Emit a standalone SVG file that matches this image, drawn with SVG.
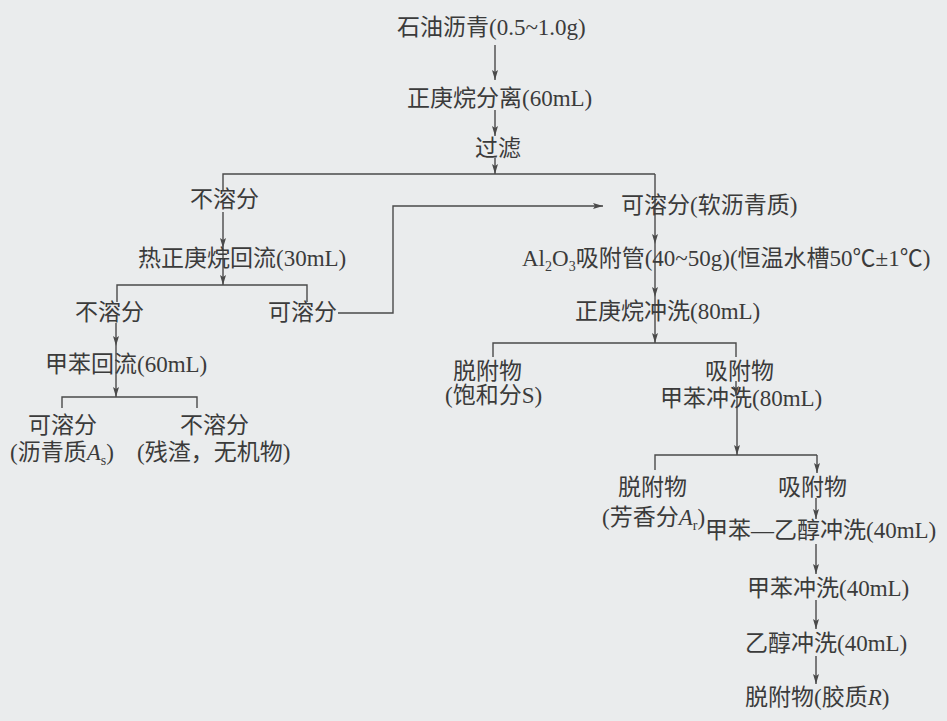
<svg xmlns="http://www.w3.org/2000/svg" width="947" height="721" viewBox="0 0 947 721">
<defs>
<style>
text{font-family:"Liberation Serif","Noto Sans CJK SC",serif;font-size:23px;fill:#3b3b3b}
.sub{font-size:14px}
.it{font-style:italic}
.ln{fill:none;stroke:#4a4a4a;stroke-width:1.4}
</style>
<marker id="ah" viewBox="0 0 10 10" refX="10" refY="5" markerWidth="10" markerHeight="10" markerUnits="userSpaceOnUse" orient="auto">
<path d="M0,2 L10,5 L0,8 L2,5 Z" fill="#4a4a4a"/>
</marker>
</defs>
<rect width="947" height="721" fill="#eaeced"/>
<g id="connectors">
<line class="ln" x1="495" y1="45" x2="495" y2="80" marker-end="url(#ah)"/>
<line class="ln" x1="495" y1="110" x2="495" y2="136" marker-end="url(#ah)"/>
<line class="ln" x1="495" y1="158" x2="495" y2="174" marker-end="url(#ah)"/>
<polyline class="ln" points="223,190 223,174 655,174"/>
<line class="ln" x1="655" y1="174" x2="655" y2="244" marker-end="url(#ah)"/>
<line class="ln" x1="655" y1="244" x2="655" y2="297" marker-end="url(#ah)"/>
<line class="ln" x1="655" y1="297" x2="655" y2="343" marker-end="url(#ah)"/>
<line class="ln" x1="223" y1="212" x2="223" y2="248" marker-end="url(#ah)"/>
<line class="ln" x1="223" y1="248" x2="223" y2="285" marker-end="url(#ah)"/>
<polyline class="ln" points="117,302 117,285 307,285 307,302"/>
<polyline class="ln" points="338,313 393,313 393,206 603,206" marker-end="url(#ah)"/>
<line class="ln" x1="116" y1="323" x2="116" y2="346" marker-end="url(#ah)"/>
<line class="ln" x1="116" y1="346" x2="116" y2="397" marker-end="url(#ah)"/>
<polyline class="ln" points="62,408 62,397 197,397 197,408"/>
<polyline class="ln" points="493,357 493,343 736,343 736,357"/>
<line class="ln" x1="736" y1="381" x2="736" y2="396" marker-end="url(#ah)"/>
<line class="ln" x1="737" y1="396" x2="737" y2="455" marker-end="url(#ah)"/>
<polyline class="ln" points="655,470 655,455 817,455"/>
<line class="ln" x1="817" y1="455" x2="817" y2="473" marker-end="url(#ah)"/>
<line class="ln" x1="816" y1="498" x2="816" y2="519" marker-end="url(#ah)"/>
<line class="ln" x1="816" y1="544" x2="816" y2="574" marker-end="url(#ah)"/>
<line class="ln" x1="816" y1="600" x2="816" y2="629" marker-end="url(#ah)"/>
<line class="ln" x1="816" y1="656" x2="816" y2="684" marker-end="url(#ah)"/>
</g>
<g id="n1"><text x="397" y="35">石油沥青(0.5~1.0g)</text></g>
<g id="n2"><text x="407" y="106">正庚烷分离(60mL)</text></g>
<g id="n3"><text x="475" y="156">过滤</text></g>
<g id="n4"><text x="190" y="207">不溶分</text></g>
<g id="n5"><text x="621" y="213">可溶分(软沥青质)</text></g>
<g id="n6"><text x="138" y="266">热正庚烷回流(30mL)</text></g>
<g id="n7"><text x="522" y="266">Al<tspan class="sub" dy="5">2</tspan><tspan dy="-5">O</tspan><tspan class="sub" dy="5">3</tspan><tspan dy="-5">吸附管(40~50g)(恒温水槽50℃±1℃)</tspan></text></g>
<g id="n8"><text x="75" y="320">不溶分</text></g>
<g id="n9"><text x="268" y="320">可溶分</text></g>
<g id="n10"><text x="575" y="319">正庚烷冲洗(80mL)</text></g>
<g id="n11"><text x="45" y="372">甲苯回流(60mL)</text></g>
<g id="n12"><text x="453" y="379">脱附物</text><text x="445" y="403">(饱和分S)</text></g>
<g id="n13"><text x="705" y="379">吸附物</text></g>
<g id="n14"><text x="660" y="406">甲苯冲洗(80mL)</text></g>
<g id="n15"><text x="28" y="433">可溶分</text><text x="10" y="460">(沥青质<tspan class="it">A</tspan><tspan class="sub" dy="5">s</tspan><tspan dy="-5">)</tspan></text></g>
<g id="n16"><text x="180" y="433">不溶分</text><text x="137" y="460">(残渣，无机物)</text></g>
<g id="n17"><text x="618" y="495">脱附物</text><text x="602" y="525">(芳香分<tspan class="it">A</tspan><tspan class="sub" dy="5">r</tspan><tspan dy="-5">)</tspan></text></g>
<g id="n18"><text x="778" y="495">吸附物</text></g>
<g id="n19"><text x="705" y="538">甲苯—乙醇冲洗(40mL)</text></g>
<g id="n20"><text x="747" y="596">甲苯冲洗(40mL)</text></g>
<g id="n21"><text x="745" y="651">乙醇冲洗(40mL)</text></g>
<g id="n22"><text x="745" y="705">脱附物(胶质<tspan class="it">R</tspan>)</text></g>
</svg>
